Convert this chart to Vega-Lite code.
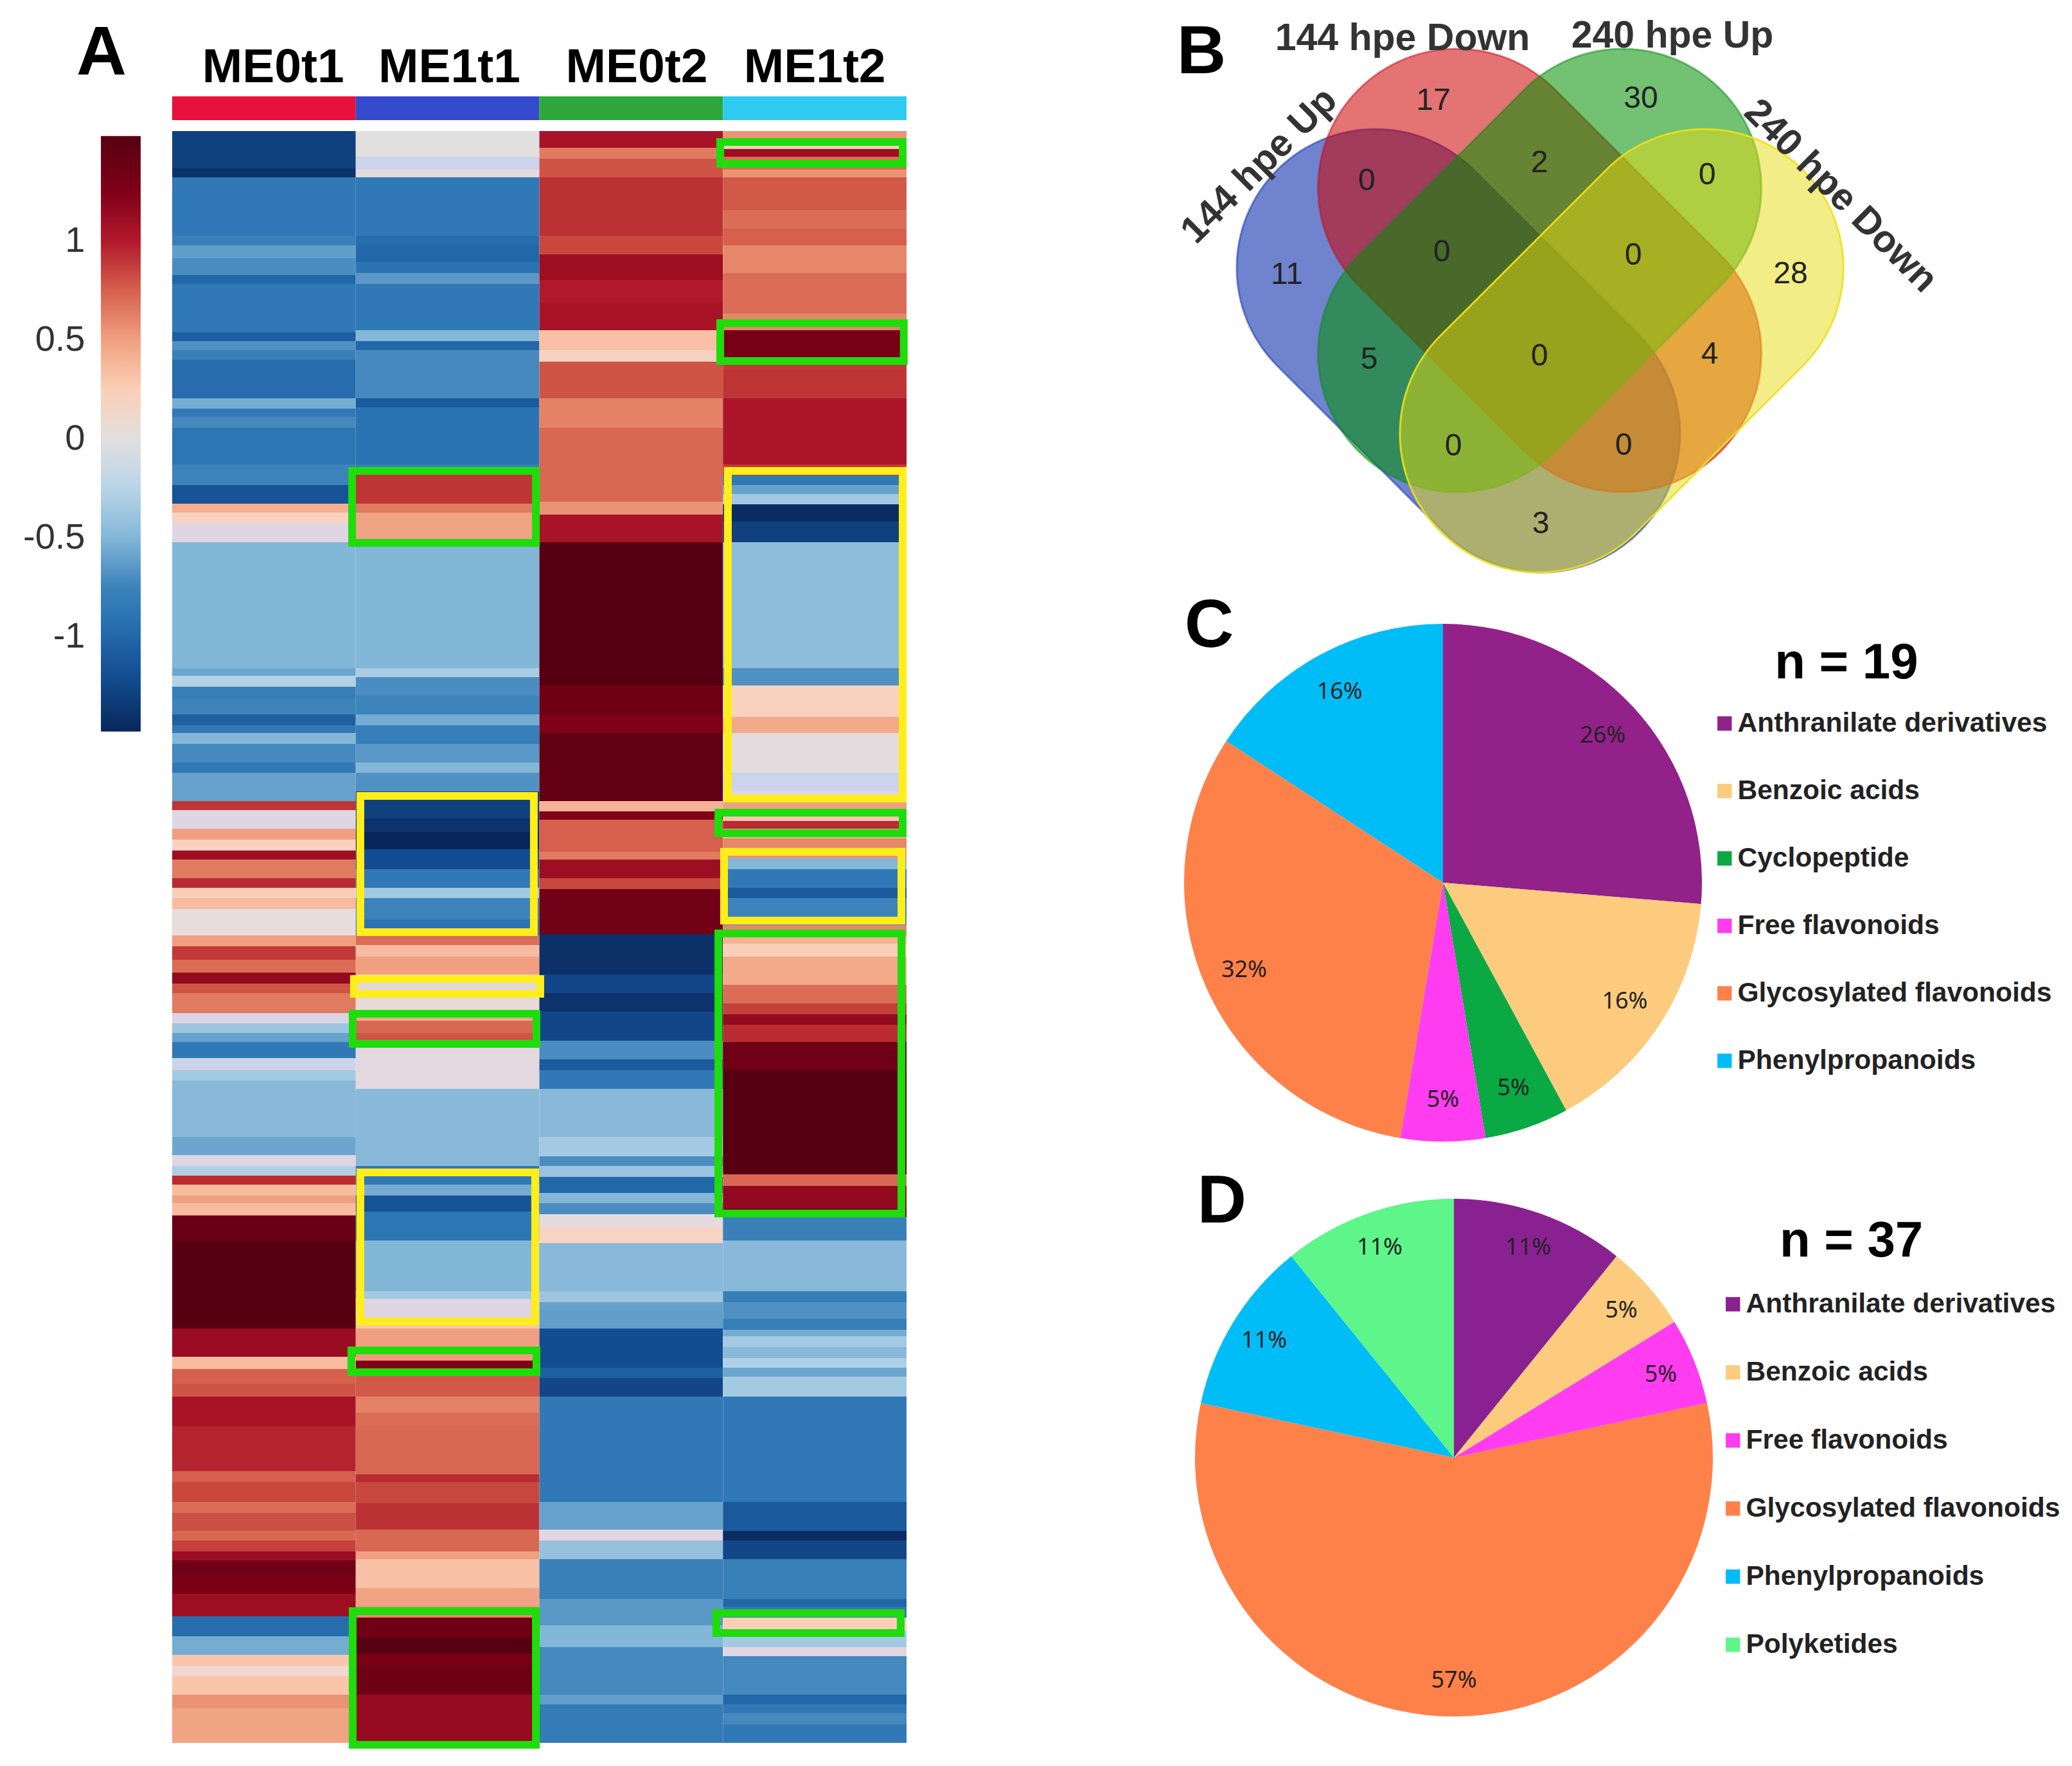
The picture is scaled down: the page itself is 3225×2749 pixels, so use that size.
{"$schema":"https://vega.github.io/schema/vega-lite/v6.json","padding":0,"background":"white","config":{"view":{"stroke":null},"font":"Liberation Sans"},"spacing":0,"bounds":"flush","resolve":{"scale":{"color":"independent","theta":"independent"},"legend":{"color":"independent"}},"hconcat":[
{"width":268,"height":2749,"layer":[
{"data":{"values":[{"left":0.586,"right":0.817,"low":-1.48,"high":1.53}]},"mark":{"type":"rect","fill":{"gradient":"linear","x1":0,"y1":1,"x2":0,"y2":0,"stops":[{"offset":0,"color":"#08275a"},{"offset":0.093,"color":"#134d91"},{"offset":0.193,"color":"#2b74b3"},{"offset":0.243,"color":"#3c83bb"},{"offset":0.326,"color":"#83b7d8"},{"offset":0.409,"color":"#b9d5e9"},{"offset":0.492,"color":"#e2dfdf"},{"offset":0.575,"color":"#fbcfb7"},{"offset":0.658,"color":"#f0a080"},{"offset":0.741,"color":"#d6604d"},{"offset":0.824,"color":"#b2182b"},{"offset":0.907,"color":"#7f0018"},{"offset":1,"color":"#570012"}]}},"encoding":{"x":{"field":"left","type":"quantitative","scale":{"domain":[0,1],"nice":false},"axis":null},"x2":{"field":"right"},"y":{"field":"low","type":"quantitative","scale":{"domain":[-6.708,2.2175],"nice":false,"zero":false},"axis":{"title":null,"values":[-1,-0.5,0,0.5,1],"labelExpr":"''+datum.value","offset":-140,"domain":false,"ticks":false,"grid":false,"labelFontSize":56,"labelColor":"#333333","labelPadding":8,"labelFont":"Liberation Sans"}},"y2":{"field":"high"}}},
{"data":{"values":[{"t":"A","px":0.59,"py":1.945}]},"mark":{"type":"text","fontSize":108,"fontWeight":"bold","align":"center","baseline":"middle","color":"#000000"},"encoding":{"x":{"field":"px","type":"quantitative"},"y":{"field":"py","type":"quantitative"},"text":{"field":"t"}}}
]},
{"width":1143,"height":2749,"resolve":{"scale":{"x":"independent","color":"independent"}},"layer":[
{"data":{"values":[
{"c":"ME0t1","a":20.4,"b":26.2,"v":-1.3},{"c":"ME0t1","a":26.2,"b":27.6,"v":-1.4},{"c":"ME0t1","a":27.6,"b":36.7,"v":-0.85},{"c":"ME0t1","a":36.7,"b":38.2,"v":-0.78},{"c":"ME0t1","a":38.2,"b":40.2,"v":-0.62},{"c":"ME0t1","a":40.2,"b":42.8,"v":-0.7},{"c":"ME0t1","a":42.8,"b":44.2,"v":-1.0},{"c":"ME0t1","a":44.2,"b":51.7,"v":-0.85},{"c":"ME0t1","a":51.7,"b":53.1,"v":-1.05},{"c":"ME0t1","a":53.1,"b":54.5,"v":-0.68},{"c":"ME0t1","a":54.5,"b":56.0,"v":-0.78},{"c":"ME0t1","a":56.0,"b":62.0,"v":-0.95},{"c":"ME0t1","a":62.0,"b":63.6,"v":-0.55},{"c":"ME0t1","a":63.6,"b":64.9,"v":-0.85},{"c":"ME0t1","a":64.9,"b":66.6,"v":-0.72},{"c":"ME0t1","a":66.6,"b":72.3,"v":-0.88},{"c":"ME0t1","a":72.3,"b":75.5,"v":-0.75},{"c":"ME0t1","a":75.5,"b":78.4,"v":-1.15},{"c":"ME0t1","a":78.4,"b":79.8,"v":0.42},{"c":"ME0t1","a":79.8,"b":81.5,"v":0.2},{"c":"ME0t1","a":81.5,"b":84.4,"v":-0.12},{"c":"ME0t1","a":84.4,"b":104.0,"v":-0.5},{"c":"ME0t1","a":104.0,"b":105.2,"v":-0.58},{"c":"ME0t1","a":105.2,"b":106.9,"v":-0.28},{"c":"ME0t1","a":106.9,"b":108.7,"v":-0.8},{"c":"ME0t1","a":108.7,"b":111.2,"v":-0.75},{"c":"ME0t1","a":111.2,"b":112.9,"v":-1.05},{"c":"ME0t1","a":112.9,"b":114.1,"v":-0.85},{"c":"ME0t1","a":114.1,"b":115.8,"v":-0.5},{"c":"ME0t1","a":115.8,"b":118.7,"v":-0.72},{"c":"ME0t1","a":118.7,"b":120.3,"v":-0.85},{"c":"ME0t1","a":120.3,"b":124.7,"v":-0.6},{"c":"ME0t1","a":124.7,"b":126.1,"v":0.92},{"c":"ME0t1","a":126.1,"b":129.0,"v":-0.12},{"c":"ME0t1","a":129.0,"b":130.7,"v":0.5},{"c":"ME0t1","a":130.7,"b":132.4,"v":0.2},{"c":"ME0t1","a":132.4,"b":133.8,"v":1.1},{"c":"ME0t1","a":133.8,"b":136.7,"v":0.65},{"c":"ME0t1","a":136.7,"b":138.2,"v":0.95},{"c":"ME0t1","a":138.2,"b":139.8,"v":0.25},{"c":"ME0t1","a":139.8,"b":141.5,"v":0.35},{"c":"ME0t1","a":141.5,"b":145.6,"v":0.03},{"c":"ME0t1","a":145.6,"b":147.3,"v":0.5},{"c":"ME0t1","a":147.3,"b":149.4,"v":0.9},{"c":"ME0t1","a":149.4,"b":151.4,"v":0.7},{"c":"ME0t1","a":151.4,"b":153.1,"v":1.15},{"c":"ME0t1","a":153.1,"b":154.6,"v":0.8},{"c":"ME0t1","a":154.6,"b":157.7,"v":0.65},{"c":"ME0t1","a":157.7,"b":159.3,"v":-0.15},{"c":"ME0t1","a":159.3,"b":160.8,"v":-0.38},{"c":"ME0t1","a":160.8,"b":162.2,"v":-0.6},{"c":"ME0t1","a":162.2,"b":164.7,"v":-0.85},{"c":"ME0t1","a":164.7,"b":166.6,"v":-0.2},{"c":"ME0t1","a":166.6,"b":168.2,"v":-0.35},{"c":"ME0t1","a":168.2,"b":177.0,"v":-0.48},{"c":"ME0t1","a":177.0,"b":179.8,"v":-0.58},{"c":"ME0t1","a":179.8,"b":181.5,"v":-0.12},{"c":"ME0t1","a":181.5,"b":183.0,"v":-0.3},{"c":"ME0t1","a":183.0,"b":184.4,"v":0.95},{"c":"ME0t1","a":184.4,"b":186.1,"v":0.35},{"c":"ME0t1","a":186.1,"b":187.3,"v":0.5},{"c":"ME0t1","a":187.3,"b":189.2,"v":0.35},{"c":"ME0t1","a":189.2,"b":193.1,"v":1.38},{"c":"ME0t1","a":193.1,"b":206.8,"v":1.5},{"c":"ME0t1","a":206.8,"b":211.2,"v":1.12},{"c":"ME0t1","a":211.2,"b":213.1,"v":0.35},{"c":"ME0t1","a":213.1,"b":215.4,"v":0.75},{"c":"ME0t1","a":215.4,"b":217.4,"v":0.8},{"c":"ME0t1","a":217.4,"b":222.0,"v":1.05},{"c":"ME0t1","a":222.0,"b":229.0,"v":0.97},{"c":"ME0t1","a":229.0,"b":230.7,"v":0.75},{"c":"ME0t1","a":230.7,"b":233.8,"v":0.85},{"c":"ME0t1","a":233.8,"b":235.5,"v":0.7},{"c":"ME0t1","a":235.5,"b":238.3,"v":0.82},{"c":"ME0t1","a":238.3,"b":239.8,"v":0.72},{"c":"ME0t1","a":239.8,"b":241.5,"v":0.88},{"c":"ME0t1","a":241.5,"b":242.9,"v":1.1},{"c":"ME0t1","a":242.9,"b":245.2,"v":1.35},{"c":"ME0t1","a":245.2,"b":248.1,"v":1.28},{"c":"ME0t1","a":248.1,"b":251.6,"v":1.1},{"c":"ME0t1","a":251.6,"b":254.7,"v":-0.95},{"c":"ME0t1","a":254.7,"b":257.6,"v":-0.55},{"c":"ME0t1","a":257.6,"b":259.3,"v":0.3},{"c":"ME0t1","a":259.3,"b":260.9,"v":0.12},{"c":"ME0t1","a":260.9,"b":263.8,"v":0.3},{"c":"ME0t1","a":263.8,"b":265.9,"v":0.55},{"c":"ME0t1","a":265.9,"b":271.3,"v":0.48},
{"c":"ME1t1","a":20.4,"b":24.4,"v":0.0},{"c":"ME1t1","a":24.4,"b":26.4,"v":-0.2},{"c":"ME1t1","a":26.4,"b":27.6,"v":-0.05},{"c":"ME1t1","a":27.6,"b":36.7,"v":-0.85},{"c":"ME1t1","a":36.7,"b":38.2,"v":-0.95},{"c":"ME1t1","a":38.2,"b":40.8,"v":-1.0},{"c":"ME1t1","a":40.8,"b":42.5,"v":-0.9},{"c":"ME1t1","a":42.5,"b":44.2,"v":-0.65},{"c":"ME1t1","a":44.2,"b":51.4,"v":-0.85},{"c":"ME1t1","a":51.4,"b":53.1,"v":-0.5},{"c":"ME1t1","a":53.1,"b":54.5,"v":-1.0},{"c":"ME1t1","a":54.5,"b":62.0,"v":-0.72},{"c":"ME1t1","a":62.0,"b":63.4,"v":-1.1},{"c":"ME1t1","a":63.4,"b":72.3,"v":-0.9},{"c":"ME1t1","a":72.3,"b":73.8,"v":-0.8},{"c":"ME1t1","a":73.8,"b":78.4,"v":0.92},{"c":"ME1t1","a":78.4,"b":79.8,"v":0.65},{"c":"ME1t1","a":79.8,"b":84.4,"v":0.48},{"c":"ME1t1","a":84.4,"b":104.0,"v":-0.5},{"c":"ME1t1","a":104.0,"b":105.4,"v":-0.32},{"c":"ME1t1","a":105.4,"b":108.3,"v":-0.7},{"c":"ME1t1","a":108.3,"b":111.2,"v":-0.75},{"c":"ME1t1","a":111.2,"b":112.9,"v":-0.55},{"c":"ME1t1","a":112.9,"b":115.8,"v":-0.8},{"c":"ME1t1","a":115.8,"b":118.7,"v":-0.65},{"c":"ME1t1","a":118.7,"b":120.3,"v":-0.5},{"c":"ME1t1","a":120.3,"b":123.2,"v":-0.68},{"c":"ME1t1","a":123.2,"b":127.4,"v":-1.3},{"c":"ME1t1","a":127.4,"b":129.5,"v":-1.4},{"c":"ME1t1","a":129.5,"b":132.2,"v":-1.5},{"c":"ME1t1","a":132.2,"b":135.3,"v":-1.2},{"c":"ME1t1","a":135.3,"b":138.2,"v":-0.85},{"c":"ME1t1","a":138.2,"b":139.8,"v":-0.35},{"c":"ME1t1","a":139.8,"b":143.1,"v":-0.75},{"c":"ME1t1","a":143.1,"b":145.6,"v":-0.9},{"c":"ME1t1","a":145.6,"b":147.1,"v":0.7},{"c":"ME1t1","a":147.1,"b":148.9,"v":0.35},{"c":"ME1t1","a":148.9,"b":151.7,"v":0.5},{"c":"ME1t1","a":151.7,"b":155.4,"v":-0.1},{"c":"ME1t1","a":155.4,"b":157.3,"v":0.05},{"c":"ME1t1","a":157.3,"b":158.9,"v":0.45},{"c":"ME1t1","a":158.9,"b":160.8,"v":0.72},{"c":"ME1t1","a":160.8,"b":162.9,"v":0.8},{"c":"ME1t1","a":162.9,"b":169.5,"v":-0.08},{"c":"ME1t1","a":169.5,"b":181.5,"v":-0.48},{"c":"ME1t1","a":181.5,"b":184.4,"v":-0.85},{"c":"ME1t1","a":184.4,"b":186.1,"v":-0.55},{"c":"ME1t1","a":186.1,"b":188.6,"v":-1.15},{"c":"ME1t1","a":188.6,"b":193.1,"v":-0.88},{"c":"ME1t1","a":193.1,"b":201.0,"v":-0.5},{"c":"ME1t1","a":201.0,"b":202.2,"v":-0.35},{"c":"ME1t1","a":202.2,"b":205.1,"v":-0.12},{"c":"ME1t1","a":205.1,"b":206.8,"v":0.3},{"c":"ME1t1","a":206.8,"b":209.7,"v":0.5},{"c":"ME1t1","a":209.7,"b":211.8,"v":0.52},{"c":"ME1t1","a":211.8,"b":213.0,"v":1.25},{"c":"ME1t1","a":213.0,"b":217.4,"v":0.78},{"c":"ME1t1","a":217.4,"b":219.9,"v":0.62},{"c":"ME1t1","a":219.9,"b":222.0,"v":0.7},{"c":"ME1t1","a":222.0,"b":229.5,"v":0.72},{"c":"ME1t1","a":229.5,"b":230.7,"v":0.95},{"c":"ME1t1","a":230.7,"b":234.0,"v":0.85},{"c":"ME1t1","a":234.0,"b":238.1,"v":0.93},{"c":"ME1t1","a":238.1,"b":241.5,"v":0.72},{"c":"ME1t1","a":241.5,"b":242.7,"v":0.5},{"c":"ME1t1","a":242.7,"b":247.2,"v":0.33},{"c":"ME1t1","a":247.2,"b":250.1,"v":0.48},{"c":"ME1t1","a":250.1,"b":251.8,"v":0.6},{"c":"ME1t1","a":251.8,"b":254.9,"v":1.35},{"c":"ME1t1","a":254.9,"b":257.4,"v":1.5},{"c":"ME1t1","a":257.4,"b":259.3,"v":1.28},{"c":"ME1t1","a":259.3,"b":263.8,"v":1.35},{"c":"ME1t1","a":263.8,"b":271.3,"v":1.13},
{"c":"ME0t2","a":20.4,"b":23.0,"v":1.05},{"c":"ME0t2","a":23.0,"b":24.7,"v":0.65},{"c":"ME0t2","a":24.7,"b":27.6,"v":0.8},{"c":"ME0t2","a":27.6,"b":36.7,"v":0.93},{"c":"ME0t2","a":36.7,"b":39.6,"v":0.85},{"c":"ME0t2","a":39.6,"b":43.6,"v":1.1},{"c":"ME0t2","a":43.6,"b":47.1,"v":1.0},{"c":"ME0t2","a":47.1,"b":51.4,"v":1.05},{"c":"ME0t2","a":51.4,"b":54.5,"v":0.33},{"c":"ME0t2","a":54.5,"b":56.3,"v":0.2},{"c":"ME0t2","a":56.3,"b":62.0,"v":0.8},{"c":"ME0t2","a":62.0,"b":66.6,"v":0.62},{"c":"ME0t2","a":66.6,"b":78.1,"v":0.72},{"c":"ME0t2","a":78.1,"b":80.1,"v":0.55},{"c":"ME0t2","a":80.1,"b":84.4,"v":1.05},{"c":"ME0t2","a":84.4,"b":106.7,"v":1.5},{"c":"ME0t2","a":106.7,"b":111.2,"v":1.35},{"c":"ME0t2","a":111.2,"b":114.1,"v":1.25},{"c":"ME0t2","a":114.1,"b":124.7,"v":1.42},{"c":"ME0t2","a":124.7,"b":126.3,"v":0.4},{"c":"ME0t2","a":126.3,"b":127.6,"v":1.25},{"c":"ME0t2","a":127.6,"b":132.6,"v":0.75},{"c":"ME0t2","a":132.6,"b":133.8,"v":0.65},{"c":"ME0t2","a":133.8,"b":136.7,"v":1.1},{"c":"ME0t2","a":136.7,"b":138.4,"v":0.85},{"c":"ME0t2","a":138.4,"b":145.4,"v":1.33},{"c":"ME0t2","a":145.4,"b":151.7,"v":-1.42},{"c":"ME0t2","a":151.7,"b":154.6,"v":-1.25},{"c":"ME0t2","a":154.6,"b":157.5,"v":-1.4},{"c":"ME0t2","a":157.5,"b":162.0,"v":-1.25},{"c":"ME0t2","a":162.0,"b":164.9,"v":-0.7},{"c":"ME0t2","a":164.9,"b":166.6,"v":-1.1},{"c":"ME0t2","a":166.6,"b":169.5,"v":-0.85},{"c":"ME0t2","a":169.5,"b":177.0,"v":-0.48},{"c":"ME0t2","a":177.0,"b":180.0,"v":-0.35},{"c":"ME0t2","a":180.0,"b":181.5,"v":-0.7},{"c":"ME0t2","a":181.5,"b":183.2,"v":-0.4},{"c":"ME0t2","a":183.2,"b":185.7,"v":-1.0},{"c":"ME0t2","a":185.7,"b":187.3,"v":-0.5},{"c":"ME0t2","a":187.3,"b":189.0,"v":-0.7},{"c":"ME0t2","a":189.0,"b":191.0,"v":-0.05},{"c":"ME0t2","a":191.0,"b":193.5,"v":0.18},{"c":"ME0t2","a":193.5,"b":201.0,"v":-0.48},{"c":"ME0t2","a":201.0,"b":202.7,"v":-0.38},{"c":"ME0t2","a":202.7,"b":203.9,"v":-0.6},{"c":"ME0t2","a":203.9,"b":206.8,"v":-0.62},{"c":"ME0t2","a":206.8,"b":212.9,"v":-1.2},{"c":"ME0t2","a":212.9,"b":214.5,"v":-1.05},{"c":"ME0t2","a":214.5,"b":217.4,"v":-1.25},{"c":"ME0t2","a":217.4,"b":233.8,"v":-0.85},{"c":"ME0t2","a":233.8,"b":238.1,"v":-0.6},{"c":"ME0t2","a":238.1,"b":239.8,"v":-0.1},{"c":"ME0t2","a":239.8,"b":242.7,"v":-0.42},{"c":"ME0t2","a":242.7,"b":248.9,"v":-0.78},{"c":"ME0t2","a":248.9,"b":253.0,"v":-0.65},{"c":"ME0t2","a":253.0,"b":256.4,"v":-0.5},{"c":"ME0t2","a":256.4,"b":263.8,"v":-0.72},{"c":"ME0t2","a":263.8,"b":265.3,"v":-0.62},{"c":"ME0t2","a":265.3,"b":271.3,"v":-0.82},
{"c":"ME1t2","a":20.4,"b":22.1,"v":0.55},{"c":"ME1t2","a":22.1,"b":23.2,"v":0.25},{"c":"ME1t2","a":23.2,"b":24.4,"v":1.1},{"c":"ME1t2","a":24.4,"b":26.4,"v":0.7},{"c":"ME1t2","a":26.4,"b":27.6,"v":0.55},{"c":"ME1t2","a":27.6,"b":32.7,"v":0.78},{"c":"ME1t2","a":32.7,"b":35.6,"v":0.7},{"c":"ME1t2","a":35.6,"b":38.2,"v":0.75},{"c":"ME1t2","a":38.2,"b":42.5,"v":0.6},{"c":"ME1t2","a":42.5,"b":48.8,"v":0.7},{"c":"ME1t2","a":48.8,"b":51.4,"v":0.6},{"c":"ME1t2","a":51.4,"b":55.7,"v":1.3},{"c":"ME1t2","a":55.7,"b":57.4,"v":0.9},{"c":"ME1t2","a":57.4,"b":62.0,"v":0.92},{"c":"ME1t2","a":62.0,"b":72.3,"v":1.03},{"c":"ME1t2","a":72.3,"b":74.0,"v":0.9},{"c":"ME1t2","a":74.0,"b":75.5,"v":-0.85},{"c":"ME1t2","a":75.5,"b":76.9,"v":-0.6},{"c":"ME1t2","a":76.9,"b":78.5,"v":-0.35},{"c":"ME1t2","a":78.5,"b":81.2,"v":-1.45},{"c":"ME1t2","a":81.2,"b":84.4,"v":-1.3},{"c":"ME1t2","a":84.4,"b":104.0,"v":-0.45},{"c":"ME1t2","a":104.0,"b":106.7,"v":-0.68},{"c":"ME1t2","a":106.7,"b":111.6,"v":0.2},{"c":"ME1t2","a":111.6,"b":114.1,"v":0.45},{"c":"ME1t2","a":114.1,"b":120.3,"v":-0.03},{"c":"ME1t2","a":120.3,"b":123.2,"v":-0.2},{"c":"ME1t2","a":123.2,"b":124.9,"v":-0.1},{"c":"ME1t2","a":124.9,"b":126.1,"v":0.5},{"c":"ME1t2","a":126.1,"b":127.8,"v":0.3},{"c":"ME1t2","a":127.8,"b":129.0,"v":0.95},{"c":"ME1t2","a":129.0,"b":130.5,"v":0.4},{"c":"ME1t2","a":130.5,"b":131.9,"v":0.6},{"c":"ME1t2","a":131.9,"b":133.6,"v":0.55},{"c":"ME1t2","a":133.6,"b":135.3,"v":-0.5},{"c":"ME1t2","a":135.3,"b":138.2,"v":-0.85},{"c":"ME1t2","a":138.2,"b":139.8,"v":-1.1},{"c":"ME1t2","a":139.8,"b":142.7,"v":-0.75},{"c":"ME1t2","a":142.7,"b":144.0,"v":-0.7},{"c":"ME1t2","a":144.0,"b":145.8,"v":0.6},{"c":"ME1t2","a":145.8,"b":146.9,"v":0.4},{"c":"ME1t2","a":146.9,"b":148.9,"v":0.25},{"c":"ME1t2","a":148.9,"b":153.3,"v":0.45},{"c":"ME1t2","a":153.3,"b":156.2,"v":0.7},{"c":"ME1t2","a":156.2,"b":157.9,"v":0.88},{"c":"ME1t2","a":157.9,"b":159.5,"v":1.15},{"c":"ME1t2","a":159.5,"b":162.2,"v":0.95},{"c":"ME1t2","a":162.2,"b":166.6,"v":1.35},{"c":"ME1t2","a":166.6,"b":182.8,"v":1.5},{"c":"ME1t2","a":182.8,"b":184.6,"v":0.72},{"c":"ME1t2","a":184.6,"b":188.1,"v":1.15},{"c":"ME1t2","a":188.1,"b":189.4,"v":1.3},{"c":"ME1t2","a":189.4,"b":193.1,"v":-0.78},{"c":"ME1t2","a":193.1,"b":201.0,"v":-0.48},{"c":"ME1t2","a":201.0,"b":202.7,"v":-0.8},{"c":"ME1t2","a":202.7,"b":205.3,"v":-0.68},{"c":"ME1t2","a":205.3,"b":207.0,"v":-0.8},{"c":"ME1t2","a":207.0,"b":208.0,"v":-0.55},{"c":"ME1t2","a":208.0,"b":209.7,"v":-0.35},{"c":"ME1t2","a":209.7,"b":211.4,"v":-0.48},{"c":"ME1t2","a":211.4,"b":212.9,"v":-0.3},{"c":"ME1t2","a":212.9,"b":214.3,"v":-0.58},{"c":"ME1t2","a":214.3,"b":217.4,"v":-0.35},{"c":"ME1t2","a":217.4,"b":233.8,"v":-0.85},{"c":"ME1t2","a":233.8,"b":238.3,"v":-1.1},{"c":"ME1t2","a":238.3,"b":239.8,"v":-1.45},{"c":"ME1t2","a":239.8,"b":242.7,"v":-1.25},{"c":"ME1t2","a":242.7,"b":248.9,"v":-0.78},{"c":"ME1t2","a":248.9,"b":250.1,"v":-1.0},{"c":"ME1t2","a":250.1,"b":251.8,"v":-0.85},{"c":"ME1t2","a":251.8,"b":253.9,"v":0.25},{"c":"ME1t2","a":253.9,"b":256.4,"v":-0.35},{"c":"ME1t2","a":256.4,"b":257.8,"v":-0.1},{"c":"ME1t2","a":257.8,"b":263.8,"v":-0.72},{"c":"ME1t2","a":263.8,"b":265.3,"v":-1.0},{"c":"ME1t2","a":265.3,"b":266.7,"v":-0.85},{"c":"ME1t2","a":266.7,"b":268.4,"v":-0.72},{"c":"ME1t2","a":268.4,"b":271.3,"v":-0.85}
]},"mark":{"type":"rect"},"encoding":{"x":{"field":"c","type":"nominal","sort":["ME0t1","ME1t1","ME0t2","ME1t2"],"scale":{"paddingInner":0,"paddingOuter":0},"axis":null},"y":{"field":"a","type":"quantitative","scale":{"domain":[0,274.9],"reverse":true,"nice":false,"zero":false},"axis":null},"y2":{"field":"b"},"color":{"field":"v","type":"quantitative","legend":null,"scale":{"domain":[-1.5,-1.2,-0.9,-0.75,-0.5,-0.25,0,0.25,0.5,0.75,1,1.25,1.5],"range":["#08275a","#134d91","#2b74b3","#3c83bb","#83b7d8","#b9d5e9","#e2dfdf","#fbcfb7","#f0a080","#d6604d","#b2182b","#7f0018","#570012"]}}}},
{"data":{"values":[{"c":"ME0t1","a":15.0,"b":18.7},{"c":"ME1t1","a":15.0,"b":18.7},{"c":"ME0t2","a":15.0,"b":18.7},{"c":"ME1t2","a":15.0,"b":18.7}]},"mark":{"type":"rect"},"encoding":{"x":{"field":"c","type":"nominal","sort":["ME0t1","ME1t1","ME0t2","ME1t2"],"scale":{"paddingInner":0,"paddingOuter":0},"axis":null},"y":{"field":"a","type":"quantitative"},"y2":{"field":"b"},"color":{"field":"c","type":"nominal","legend":null,"scale":{"domain":["ME0t1","ME1t1","ME0t2","ME1t2"],"range":["#e8103c","#3549cc","#2ea83a","#2ecbf0"]}}}},
{"data":{"values":[
{"k":"green","x0":2.985,"x1":3.979,"a":22.1,"b":25.5},{"k":"green","x0":2.985,"x1":3.985,"a":50.3,"b":56.2},{"k":"green","x0":0.98,"x1":1.981,"a":73.3,"b":84.5},{"k":"yellow","x0":3.027,"x1":3.979,"a":73.3,"b":124.3},{"k":"green","x0":2.975,"x1":3.979,"a":126.5,"b":129.7},{"k":"yellow","x0":3.006,"x1":3.972,"a":132.6,"b":143.3},{"k":"green","x0":2.975,"x1":3.972,"a":145.3,"b":188.9},{"k":"yellow","x0":1.025,"x1":1.97,"a":123.9,"b":145.1},{"k":"yellow","x0":0.99,"x1":2.005,"a":152.4,"b":154.7},{"k":"green","x0":0.983,"x1":1.984,"a":157.8,"b":162.5},{"k":"yellow","x0":1.025,"x1":1.977,"a":182.5,"b":205.7},{"k":"green","x0":0.976,"x1":1.984,"a":210.2,"b":213.6},{"k":"green","x0":2.964,"x1":3.968,"a":251.1,"b":254.2},{"k":"green","x0":0.983,"x1":1.981,"a":250.8,"b":271.6}
]},"mark":{"type":"rect","filled":false,"strokeWidth":12},"encoding":{"x":{"field":"x0","type":"quantitative","scale":{"domain":[0,4],"nice":false,"zero":false},"axis":null},"x2":{"field":"x1"},"y":{"field":"a","type":"quantitative"},"y2":{"field":"b"},"stroke":{"field":"k","type":"nominal","legend":null,"scale":{"domain":["green","yellow"],"range":["#1fdc0c","#ffee1a"]}}}},
{"data":{"values":[{"t":"ME0t1","pos":0.55,"h":10.5},{"t":"ME1t1","pos":1.51,"h":10.5},{"t":"ME0t2","pos":2.53,"h":10.5},{"t":"ME1t2","pos":3.5,"h":10.5}]},"mark":{"type":"text","fontSize":75,"fontWeight":"bold","align":"center","baseline":"middle","color":"#000000"},"encoding":{"x":{"field":"pos","type":"quantitative","scale":{"domain":[0,4],"nice":false,"zero":false},"axis":null},"y":{"field":"h","type":"quantitative"},"text":{"field":"t"}}}
]},
{"spacing":0,"bounds":"flush","resolve":{"scale":{"color":"independent","theta":"independent"},"legend":{"color":"independent"}},"vconcat":[
{"width":1814,"height":959,"layer":[
{"data":{"values":[{"set":"144 hpe Up","px":85.9,"py":54.6}]},"mark":{"type":"point","filled":true,"fill":"#2341b5","fillOpacity":0.65,"stroke":"#2341b5","strokeOpacity":0.6,"strokeWidth":3,"size":476100,"shape":"M.0687 -.8167L.8167 -.0687A.626 .626 0 0 1 -.0687 .8167L-.8167 .0687A.626 .626 0 0 1 .0687 -.8167Z"},"encoding":{"x":{"field":"px","type":"quantitative","scale":{"domain":[0,181.4],"nice":false,"zero":false},"axis":null},"y":{"field":"py","type":"quantitative","scale":{"domain":[0,95.9],"reverse":true,"nice":false,"zero":false},"axis":null}}},
{"data":{"values":[{"set":"144 hpe Down","px":98.55,"py":42.1}]},"mark":{"type":"point","filled":true,"fill":"#ce0000","fillOpacity":0.55,"stroke":"#c01020","strokeOpacity":0.5,"strokeWidth":3,"size":476100,"shape":"M.0687 -.8167L.8167 -.0687A.626 .626 0 0 1 -.0687 .8167L-.8167 .0687A.626 .626 0 0 1 .0687 -.8167Z"},"encoding":{"x":{"field":"px","type":"quantitative"},"y":{"field":"py","type":"quantitative"}}},
{"data":{"values":[{"set":"240 hpe Up","px":98.55,"py":42.1}]},"mark":{"type":"point","filled":true,"fill":"#009000","fillOpacity":0.55,"stroke":"#108818","strokeOpacity":0.5,"strokeWidth":3,"size":476100,"shape":"M-.0687 -.8167L-.8167 -.0687A.626 .626 0 0 0 .0687 .8167L.8167 .0687A.626 .626 0 0 0 -.0687 -.8167Z"},"encoding":{"x":{"field":"px","type":"quantitative"},"y":{"field":"py","type":"quantitative"}}},
{"data":{"values":[{"set":"240 hpe Down","px":111.3,"py":54.6}]},"mark":{"type":"point","filled":true,"fill":"#e8dc10","fillOpacity":0.5,"stroke":"#ebe119","strokeOpacity":0.9,"strokeWidth":3,"size":476100,"shape":"M-.0687 -.8167L-.8167 -.0687A.626 .626 0 0 0 .0687 .8167L.8167 .0687A.626 .626 0 0 0 -.0687 -.8167Z"},"encoding":{"x":{"field":"px","type":"quantitative"},"y":{"field":"py","type":"quantitative"}}},
{"data":{"values":[{"t":"17","px":82.0,"py":15.7},{"t":"30","px":114.3,"py":15.4},{"t":"0","px":71.6,"py":28.2},{"t":"2","px":98.5,"py":25.4},{"t":"0","px":124.6,"py":27.3},{"t":"11","px":59.2,"py":42.8},{"t":"0","px":83.3,"py":39.3},{"t":"0","px":113.1,"py":39.8},{"t":"28","px":137.6,"py":42.7},{"t":"5","px":72.0,"py":56.0},{"t":"0","px":98.5,"py":55.5},{"t":"4","px":125.0,"py":55.2},{"t":"0","px":85.1,"py":69.5},{"t":"0","px":111.6,"py":69.4},{"t":"3","px":98.7,"py":81.6}]},"mark":{"type":"text","fontSize":48,"align":"center","baseline":"middle","color":"#222222"},"encoding":{"x":{"field":"px","type":"quantitative"},"y":{"field":"py","type":"quantitative"},"text":{"field":"t"}}},
{"data":{"values":[{"t":"144 hpe Down","px":77.2,"py":6.0},{"t":"240 hpe Up","px":119.2,"py":5.6}]},"mark":{"type":"text","fontSize":59,"fontWeight":"bold","align":"center","baseline":"middle","color":"#333333"},"encoding":{"x":{"field":"px","type":"quantitative"},"y":{"field":"py","type":"quantitative"},"text":{"field":"t"}}},
{"data":{"values":[{"t":"144 hpe Up","px":54.9,"py":25.8}]},"mark":{"type":"text","fontSize":59,"fontWeight":"bold","align":"center","baseline":"middle","color":"#333333","angle":315},"encoding":{"x":{"field":"px","type":"quantitative"},"y":{"field":"py","type":"quantitative"},"text":{"field":"t"}}},
{"data":{"values":[{"t":"240 hpe Down","px":145.4,"py":30.5}]},"mark":{"type":"text","fontSize":59,"fontWeight":"bold","align":"center","baseline":"middle","color":"#333333","angle":45},"encoding":{"x":{"field":"px","type":"quantitative"},"y":{"field":"py","type":"quantitative"},"text":{"field":"t"}}},
{"data":{"values":[{"t":"B","px":45.9,"py":8.2}]},"mark":{"type":"text","fontSize":106,"fontWeight":"bold","align":"center","baseline":"middle","color":"#000000"},"encoding":{"x":{"field":"px","type":"quantitative"},"y":{"field":"py","type":"quantitative"},"text":{"field":"t"}}}
]},
{"width":1670,"height":830,"layer":[
{"data":{"values":[{"cls":"Anthranilate derivatives","n":5,"o":1},{"cls":"Benzoic acids","n":3,"o":2},{"cls":"Cyclopeptide","n":1,"o":3},{"cls":"Free flavonoids","n":1,"o":4},{"cls":"Glycosylated flavonoids","n":6,"o":5},{"cls":"Phenylpropanoids","n":3,"o":6}]},"mark":{"type":"arc","radius":403},"encoding":{"theta":{"field":"n","type":"quantitative","stack":true},"order":{"field":"o"},"color":{"field":"cls","type":"nominal","scale":{"domain":["Anthranilate derivatives","Benzoic acids","Cyclopeptide","Free flavonoids","Glycosylated flavonoids","Phenylpropanoids"],"range":["#92218a","#fccb7e","#0aa943","#ff3cf0","#ff814a","#00bdf7"]},"legend":{"title":null,"orient":"none","legendX":1252,"legendY":146,"symbolType":"square","symbolSize":500,"symbolStrokeWidth":0,"labelFontSize":42.5,"labelFontWeight":"bold","labelColor":"#222222","labelOffset":-1,"labelLimit":800,"rowPadding":62,"labelFont":"Liberation Sans"}}}},
{"data":{"values":[{"cls":"Anthranilate derivatives","n":5,"o":1,"t":"26%"},{"cls":"Benzoic acids","n":3,"o":2,"t":"16%"},{"cls":"Cyclopeptide","n":1,"o":3,"t":"5%"},{"cls":"Free flavonoids","n":1,"o":4,"t":"5%"},{"cls":"Glycosylated flavonoids","n":6,"o":5,"t":"32%"},{"cls":"Phenylpropanoids","n":3,"o":6,"t":"16%"}]},"mark":{"type":"text","radius":338,"font":"Noto Sans","fontSize":36,"color":"#222222"},"encoding":{"theta":{"field":"n","type":"quantitative","stack":true},"order":{"field":"o"},"detail":{"field":"cls"},"text":{"field":"t"}}},
{"data":{"values":[{"t":"n = 19","px":0.876,"py":0.089}]},"mark":{"type":"text","fontSize":78,"fontWeight":"bold","align":"center","baseline":"middle","color":"#000000"},"encoding":{"x":{"field":"px","type":"quantitative","scale":{"domain":[0,1],"nice":false},"axis":null},"y":{"field":"py","type":"quantitative","scale":{"domain":[0,1],"reverse":true,"nice":false},"axis":null},"text":{"field":"t"}}},
{"data":{"values":[{"t":"C","px":0.282,"py":0.019}]},"mark":{"type":"text","fontSize":106,"fontWeight":"bold","align":"center","baseline":"middle","color":"#000000"},"encoding":{"x":{"field":"px","type":"quantitative"},"y":{"field":"py","type":"quantitative"},"text":{"field":"t"}}}
]},
{"width":1704,"height":960,"layer":[
{"data":{"values":[{"cls":"Anthranilate derivatives","n":4,"o":1},{"cls":"Benzoic acids","n":2,"o":2},{"cls":"Free flavonoids","n":2,"o":3},{"cls":"Glycosylated flavonoids","n":21,"o":4},{"cls":"Phenylpropanoids","n":4,"o":5},{"cls":"Polyketides","n":4,"o":6}]},"mark":{"type":"arc","radius":403},"encoding":{"theta":{"field":"n","type":"quantitative","stack":true},"order":{"field":"o"},"color":{"field":"cls","type":"nominal","scale":{"domain":["Anthranilate derivatives","Benzoic acids","Free flavonoids","Glycosylated flavonoids","Phenylpropanoids","Polyketides"],"range":["#8a2190","#fccb7e","#ff3cf0","#ff814a","#00bdf7","#5ef58a"]},"legend":{"title":null,"orient":"none","legendX":1265,"legendY":220,"symbolType":"square","symbolSize":500,"symbolStrokeWidth":0,"labelFontSize":42.5,"labelFontWeight":"bold","labelColor":"#222222","labelOffset":-1,"labelLimit":800,"rowPadding":63,"labelFont":"Liberation Sans"}}}},
{"data":{"values":[{"cls":"Anthranilate derivatives","n":4,"o":1,"t":"11%"},{"cls":"Benzoic acids","n":2,"o":2,"t":"5%"},{"cls":"Free flavonoids","n":2,"o":3,"t":"5%"},{"cls":"Glycosylated flavonoids","n":21,"o":4,"t":"57%"},{"cls":"Phenylpropanoids","n":4,"o":5,"t":"11%"},{"cls":"Polyketides","n":4,"o":6,"t":"11%"}]},"mark":{"type":"text","radius":347,"font":"Noto Sans","fontSize":36,"color":"#222222"},"encoding":{"theta":{"field":"n","type":"quantitative","stack":true},"order":{"field":"o"},"detail":{"field":"cls"},"text":{"field":"t"}}},
{"data":{"values":[{"t":"n = 37","px":0.863,"py":0.15}]},"mark":{"type":"text","fontSize":78,"fontWeight":"bold","align":"center","baseline":"middle","color":"#000000"},"encoding":{"x":{"field":"px","type":"quantitative","scale":{"domain":[0,1],"nice":false},"axis":null},"y":{"field":"py","type":"quantitative","scale":{"domain":[0,1],"reverse":true,"nice":false},"axis":null},"text":{"field":"t"}}},
{"data":{"values":[{"t":"D","px":0.288,"py":0.085}]},"mark":{"type":"text","fontSize":106,"fontWeight":"bold","align":"center","baseline":"middle","color":"#000000"},"encoding":{"x":{"field":"px","type":"quantitative"},"y":{"field":"py","type":"quantitative"},"text":{"field":"t"}}}
]}
]}
]}
